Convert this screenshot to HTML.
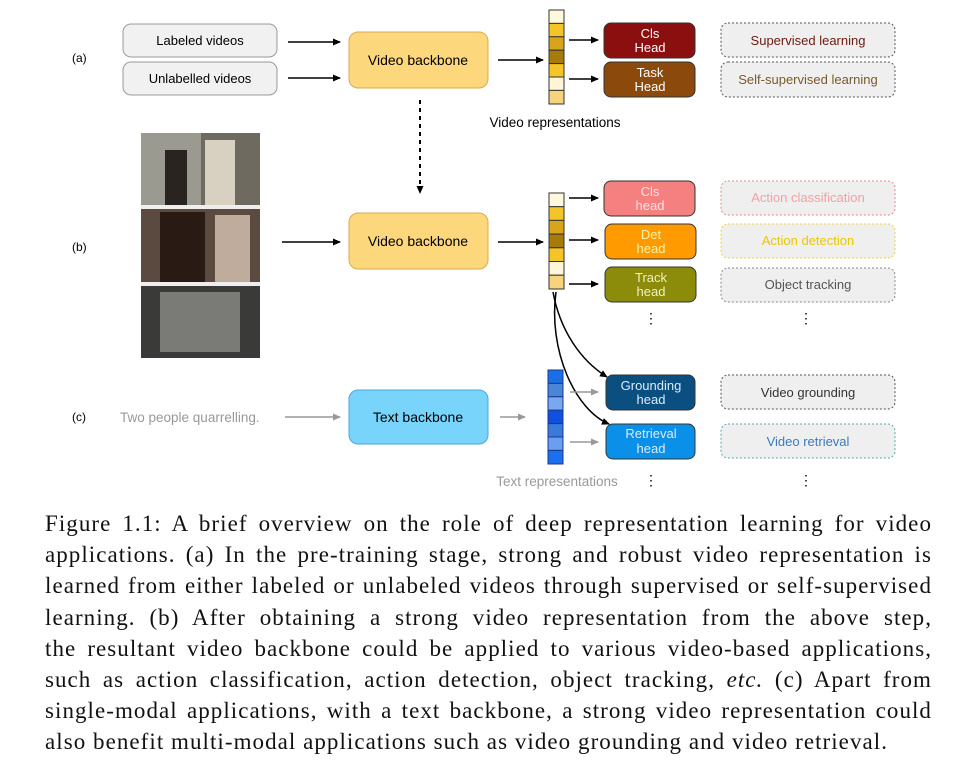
<!DOCTYPE html>
<html><head><style>
body{margin:0;width:978px;height:771px;background:#fff;position:relative;overflow:hidden;font-family:"Liberation Sans",sans-serif}
.cap{position:absolute;left:45px;top:508px;width:887px;font-family:"Liberation Serif",serif;font-size:23px;letter-spacing:1.05px;line-height:31.2px;text-align:justify;color:#111}
.cap .l{display:block;text-align:justify;text-align-last:justify;height:31.2px;white-space:nowrap}
.cap .last{text-align-last:left}
</style></head><body>
<svg width="978" height="500" style="position:absolute;left:0;top:0" font-family="Liberation Sans, sans-serif">
<defs>
<marker id="a" markerWidth="8" markerHeight="8" refX="7" refY="4" orient="auto" markerUnits="userSpaceOnUse"><path d="M0,0.5 L8,4 L0,7.5 Z" fill="#000"/></marker>
<marker id="g" markerWidth="8" markerHeight="8" refX="7" refY="4" orient="auto" markerUnits="userSpaceOnUse"><path d="M0,0.5 L8,4 L0,7.5 Z" fill="#999"/></marker>
</defs>
<g font-size="12" fill="#000"><text x="72" y="62">(a)</text><text x="72" y="251">(b)</text><text x="72" y="421">(c)</text></g>
<rect x="123" y="24" width="154" height="33" rx="8" fill="#f1f1f1" stroke="#999"/>
<rect x="123" y="62" width="154" height="33" rx="8" fill="#f1f1f1" stroke="#999"/>
<g font-size="13" text-anchor="middle"><text x="200" y="45">Labeled videos</text><text x="200" y="83">Unlabelled videos</text></g>
<line x1="288" y1="42" x2="340" y2="42" stroke="#000" stroke-width="1.5" marker-end="url(#a)"/>
<line x1="288" y1="78" x2="340" y2="78" stroke="#000" stroke-width="1.5" marker-end="url(#a)"/>
<rect x="349" y="32" width="139" height="56" rx="9" fill="#fcd77c" stroke="#d8ac4e"/>
<text x="418" y="65" font-size="14" text-anchor="middle">Video backbone</text>
<line x1="498" y1="60" x2="543" y2="60" stroke="#000" stroke-width="1.5" marker-end="url(#a)"/>
<g stroke="#333" stroke-width="1">
<rect x="549" y="10" width="15" height="13.4" fill="#fff8dc"/><rect x="549" y="23.4" width="15" height="13.4" fill="#f3c526"/><rect x="549" y="36.8" width="15" height="13.4" fill="#d8a51a"/><rect x="549" y="50.2" width="15" height="13.4" fill="#a77a0c"/><rect x="549" y="63.6" width="15" height="13.4" fill="#f3c526"/><rect x="549" y="77" width="15" height="13.4" fill="#fff6d8"/><rect x="549" y="90.4" width="15" height="13.6" fill="#f7d37e"/>
</g>
<line x1="569" y1="40" x2="598" y2="40" stroke="#000" stroke-width="1.5" marker-end="url(#a)"/>
<line x1="569" y1="79" x2="598" y2="79" stroke="#000" stroke-width="1.5" marker-end="url(#a)"/>
<rect x="604" y="23" width="91" height="35" rx="7" fill="#8b0f0f" stroke="#333"/>
<rect x="604" y="62" width="91" height="35" rx="7" fill="#8b4a0b" stroke="#333"/>
<g font-size="13" text-anchor="middle" fill="#fff"><text x="650" y="38">Cls</text><text x="650" y="52">Head</text><text x="650" y="77">Task</text><text x="650" y="91">Head</text></g>
<rect x="721" y="23" width="174" height="34" rx="7" fill="#efefef" stroke="#555" stroke-dasharray="2,2"/>
<rect x="721" y="62" width="174" height="35" rx="7" fill="#efefef" stroke="#555" stroke-dasharray="2,2"/>
<g font-size="13" text-anchor="middle"><text x="808" y="45" fill="#6b1a10">Supervised learning</text><text x="808" y="84" fill="#7a5a2a">Self-supervised learning</text></g>
<text x="555" y="127" font-size="13.5" text-anchor="middle">Video representations</text>
<line x1="420" y1="100" x2="420" y2="193" stroke="#000" stroke-width="2" stroke-dasharray="4,4" marker-end="url(#a)"/>
<rect x="141" y="133" width="119" height="225" fill="#eee"/>
<rect x="141" y="133" width="119" height="72" fill="#6f6a60"/><rect x="141" y="133" width="60" height="72" fill="#9a9a90"/><rect x="205" y="140" width="30" height="65" fill="#d8d0c0"/><rect x="165" y="150" width="22" height="55" fill="#2a2420"/>
<rect x="141" y="209" width="119" height="73" fill="#5b4a40"/><rect x="160" y="212" width="45" height="70" fill="#2a1a14"/><rect x="215" y="215" width="35" height="67" fill="#c0ac9c"/>
<rect x="141" y="286" width="119" height="72" fill="#3a3a38"/><rect x="160" y="292" width="80" height="60" fill="#7a7a76"/>
<line x1="282" y1="242" x2="340" y2="242" stroke="#000" stroke-width="1.5" marker-end="url(#a)"/>
<rect x="349" y="213" width="139" height="56" rx="9" fill="#fcd77c" stroke="#d8ac4e"/>
<text x="418" y="246" font-size="14" text-anchor="middle">Video backbone</text>
<line x1="498" y1="242" x2="543" y2="242" stroke="#000" stroke-width="1.5" marker-end="url(#a)"/>
<g stroke="#333" stroke-width="1">
<rect x="549" y="193" width="15" height="13.7" fill="#fff8dc"/><rect x="549" y="206.7" width="15" height="13.7" fill="#f3c526"/><rect x="549" y="220.4" width="15" height="13.7" fill="#d8a51a"/><rect x="549" y="234.1" width="15" height="13.7" fill="#a77a0c"/><rect x="549" y="247.8" width="15" height="13.7" fill="#f3c526"/><rect x="549" y="261.5" width="15" height="13.7" fill="#fff6d8"/><rect x="549" y="275.2" width="15" height="13.8" fill="#f7d37e"/>
</g>
<line x1="569" y1="198" x2="598" y2="198" stroke="#000" stroke-width="1.5" marker-end="url(#a)"/>
<line x1="569" y1="240" x2="598" y2="240" stroke="#000" stroke-width="1.5" marker-end="url(#a)"/>
<line x1="569" y1="284" x2="598" y2="284" stroke="#000" stroke-width="1.5" marker-end="url(#a)"/>
<rect x="604" y="181" width="91" height="35" rx="7" fill="#f58080" stroke="#333"/>
<rect x="605" y="224" width="91" height="35" rx="7" fill="#ff9a00" stroke="#333"/>
<rect x="605" y="267" width="91" height="35" rx="7" fill="#8c8c0a" stroke="#333"/>
<g font-size="13" text-anchor="middle" fill="#ffe0e0"><text x="650" y="196">Cls</text><text x="650" y="210">head</text></g>
<g font-size="13" text-anchor="middle" fill="#fff3a0"><text x="651" y="239">Det</text><text x="651" y="253">head</text></g>
<g font-size="13" text-anchor="middle" fill="#f0f0c0"><text x="651" y="282">Track</text><text x="651" y="296">head</text></g>
<rect x="721" y="181" width="174" height="34" rx="7" fill="#efefef" stroke="#e08a8a" stroke-dasharray="2,2"/>
<rect x="721" y="224" width="174" height="34" rx="7" fill="#efefef" stroke="#e8d040" stroke-dasharray="2,2"/>
<rect x="721" y="268" width="174" height="34" rx="7" fill="#efefef" stroke="#888" stroke-dasharray="2,2"/>
<g font-size="13" text-anchor="middle"><text x="808" y="202" fill="#f3a0a0">Action classification</text><text x="808" y="245" fill="#e8c800">Action detection</text><text x="808" y="289" fill="#555">Object tracking</text></g>
<g font-size="14" text-anchor="middle"><text x="651" y="323">⋮</text><text x="806" y="323">⋮</text><text x="651" y="485">⋮</text><text x="806" y="485">⋮</text></g>
<path d="M553,292 C560,330 580,360 607,377" fill="none" stroke="#000" stroke-width="1.5" marker-end="url(#a)"/>
<path d="M556,292 C548,350 575,410 609,424" fill="none" stroke="#000" stroke-width="1.5" marker-end="url(#a)"/>
<text x="120" y="422" font-size="13.5" fill="#999">Two people quarrelling.</text>
<line x1="285" y1="417" x2="340" y2="417" stroke="#999" stroke-width="1.5" marker-end="url(#g)"/>
<rect x="349" y="390" width="139" height="54" rx="9" fill="#78d4fb" stroke="#4aa8d8"/>
<text x="418" y="422" font-size="14" text-anchor="middle">Text backbone</text>
<line x1="500" y1="417" x2="525" y2="417" stroke="#999" stroke-width="1.5" marker-end="url(#g)"/>
<g stroke="#1a3a8a" stroke-width="1">
<rect x="548" y="370" width="15" height="13.4" fill="#1a6ee8"/><rect x="548" y="383.4" width="15" height="13.4" fill="#4a86d8"/><rect x="548" y="396.8" width="15" height="13.4" fill="#78a8f0"/><rect x="548" y="410.2" width="15" height="13.4" fill="#1050e0"/><rect x="548" y="423.6" width="15" height="13.4" fill="#3a7ad8"/><rect x="548" y="437" width="15" height="13.4" fill="#6a9ef0"/><rect x="548" y="450.4" width="15" height="13.6" fill="#1a70f0"/>
</g>
<line x1="570" y1="392" x2="598" y2="392" stroke="#999" stroke-width="1.5" marker-end="url(#g)"/>
<line x1="570" y1="442" x2="598" y2="442" stroke="#999" stroke-width="1.5" marker-end="url(#g)"/>
<rect x="606" y="375" width="89" height="35" rx="7" fill="#0a4f80" stroke="#333"/>
<rect x="606" y="424" width="89" height="35" rx="7" fill="#0a90e8" stroke="#333"/>
<g font-size="13" text-anchor="middle" fill="#d8ecff"><text x="651" y="390">Grounding</text><text x="651" y="404">head</text><text x="651" y="438">Retrieval</text><text x="651" y="453">head</text></g>
<rect x="721" y="375" width="174" height="34" rx="7" fill="#efefef" stroke="#555" stroke-dasharray="2,2"/>
<rect x="721" y="424" width="174" height="34" rx="7" fill="#efefef" stroke="#5aa" stroke-dasharray="2,2"/>
<g font-size="13" text-anchor="middle"><text x="808" y="397" fill="#333">Video grounding</text><text x="808" y="446" fill="#3a7ac0">Video retrieval</text></g>
<text x="557" y="486" font-size="13.5" text-anchor="middle" fill="#999">Text representations</text>
</svg>
<div class="cap">
<span class="l">Figure 1.1: A brief overview on the role of deep representation learning for video</span>
<span class="l">applications. (a) In the pre-training stage, strong and robust video representation is</span>
<span class="l">learned from either labeled or unlabeled videos through supervised or self-supervised</span>
<span class="l">learning. (b) After obtaining a strong video representation from the above step,</span>
<span class="l">the resultant video backbone could be applied to various video-based applications,</span>
<span class="l">such as action classification, action detection, object tracking, <i>etc.</i> (c) Apart from</span>
<span class="l">single-modal applications, with a text backbone, a strong video representation could</span>
<span class="l last">also benefit multi-modal applications such as video grounding and video retrieval.</span>
</div>
</body></html>
